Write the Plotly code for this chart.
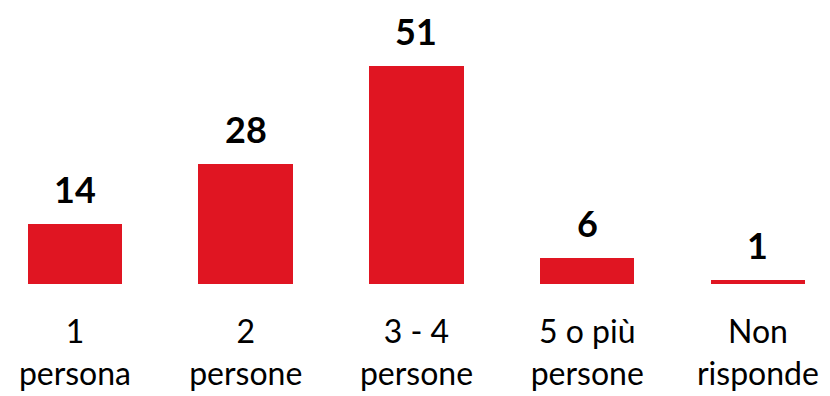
import plotly.graph_objects as go

# Household size distribution (%)
categories = ["1 persona", "2 persone", "3 - 4 persone", "5 o più persone", "Non risponde"]
tick_labels = ["1<br>persona", "2<br>persone", "3 - 4<br>persone", "5 o più<br>persone", "Non<br>risponde"]
values = [14, 28, 51, 6, 1]

BAR_COLOR = "#E01522"
FONT = "Lato, 'Open Sans', sans-serif"

x_pos = list(range(len(categories)))

fig = go.Figure(
    go.Bar(
        x=x_pos,
        y=values,
        width=0.553,
        marker=dict(color=BAR_COLOR, line=dict(width=0)),
        hovertext=categories,
    )
)

for xi, v in zip(x_pos, values):
    fig.add_annotation(
        x=xi, y=v, text=f"<b>{v}</b>", showarrow=False,
        yanchor="bottom", yshift=11,
        font=dict(family=FONT, size=36, color="black"),
    )

fig.update_layout(
    width=830, height=396,
    margin=dict(l=0, r=0, t=0, b=112),
    paper_bgcolor="white", plot_bgcolor="white",
    showlegend=False,
    font=dict(family=FONT, color="black"),
    bargap=0,
)
fig.update_xaxes(
    range=[-0.439, 4.422],
    tickmode="array", tickvals=x_pos, ticktext=tick_labels,
    tickfont=dict(family=FONT, size=32, color="black"),
    showgrid=False, zeroline=False, showline=False,
    ticks="outside", ticklen=20, tickcolor="rgba(0,0,0,0)",
)
fig.update_yaxes(
    range=[0, 66.43], visible=False, showgrid=False, zeroline=False,
)

fig.write_html("out.html")
